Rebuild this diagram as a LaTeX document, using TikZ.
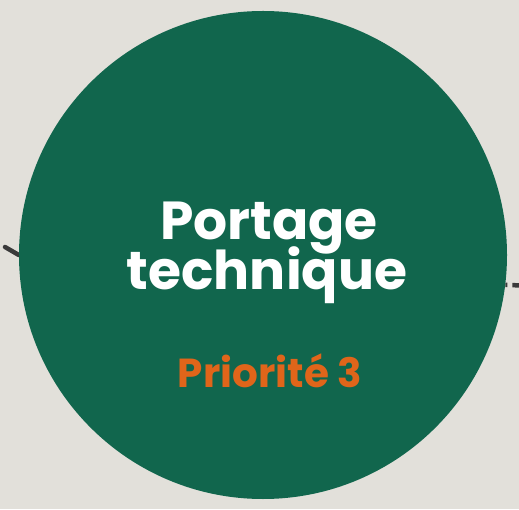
\documentclass[tikz,border=0pt]{standalone}
\usepackage{fontspec}
\setmainfont{Poppins}
\usetikzlibrary{positioning}
\definecolor{bgbeige}{HTML}{E2E0DA}
\definecolor{deepgreen}{HTML}{11664D}
\definecolor{rustorange}{HTML}{E0651A}
\definecolor{linkgray}{HTML}{3A3A3A}
\pgfdeclarelayer{paper}
\pgfdeclarelayer{links}
\pgfsetlayers{paper,links,main}
\begin{document}
\begin{tikzpicture}[x=1pt, y=1pt,
  bubble/.style={circle, fill=deepgreen, minimum size=488pt, inner sep=0pt},
  title/.style={font=\fontsize{53.5}{53.5}\selectfont\bfseries, text=white, align=center, inner sep=0pt},
  prio/.style={font=\fontsize{40.5}{40.5}\selectfont\bfseries, text=rustorange, inner sep=0pt},
  link/.style={draw=linkgray, line width=4.5pt}
]
\begin{pgfonlayer}{paper}
\fill[bgbeige] (0,0) rectangle (519,509);
\end{pgfonlayer}
\useasboundingbox (0,0) rectangle (519,509);
\node[bubble] (portage) at (263,254) {};
\node[title, anchor=base] (line1) at (269,269) {Portage};
\node[title, anchor=base] (line2) at (267,219) {technique};
\node[prio, anchor=base] (rank) at (270,122) {Priorité 3};
\coordinate (inlink) at (5,262);
\coordinate (outlink) at (530,223);
\begin{pgfonlayer}{links}
\draw[link, line cap=round] (inlink) -- (portage.west);
\draw[link, dash pattern=on 8pt off 5pt, dash phase=6pt] (portage.-7.3) -- (outlink);
\end{pgfonlayer}
\end{tikzpicture}
\end{document}
